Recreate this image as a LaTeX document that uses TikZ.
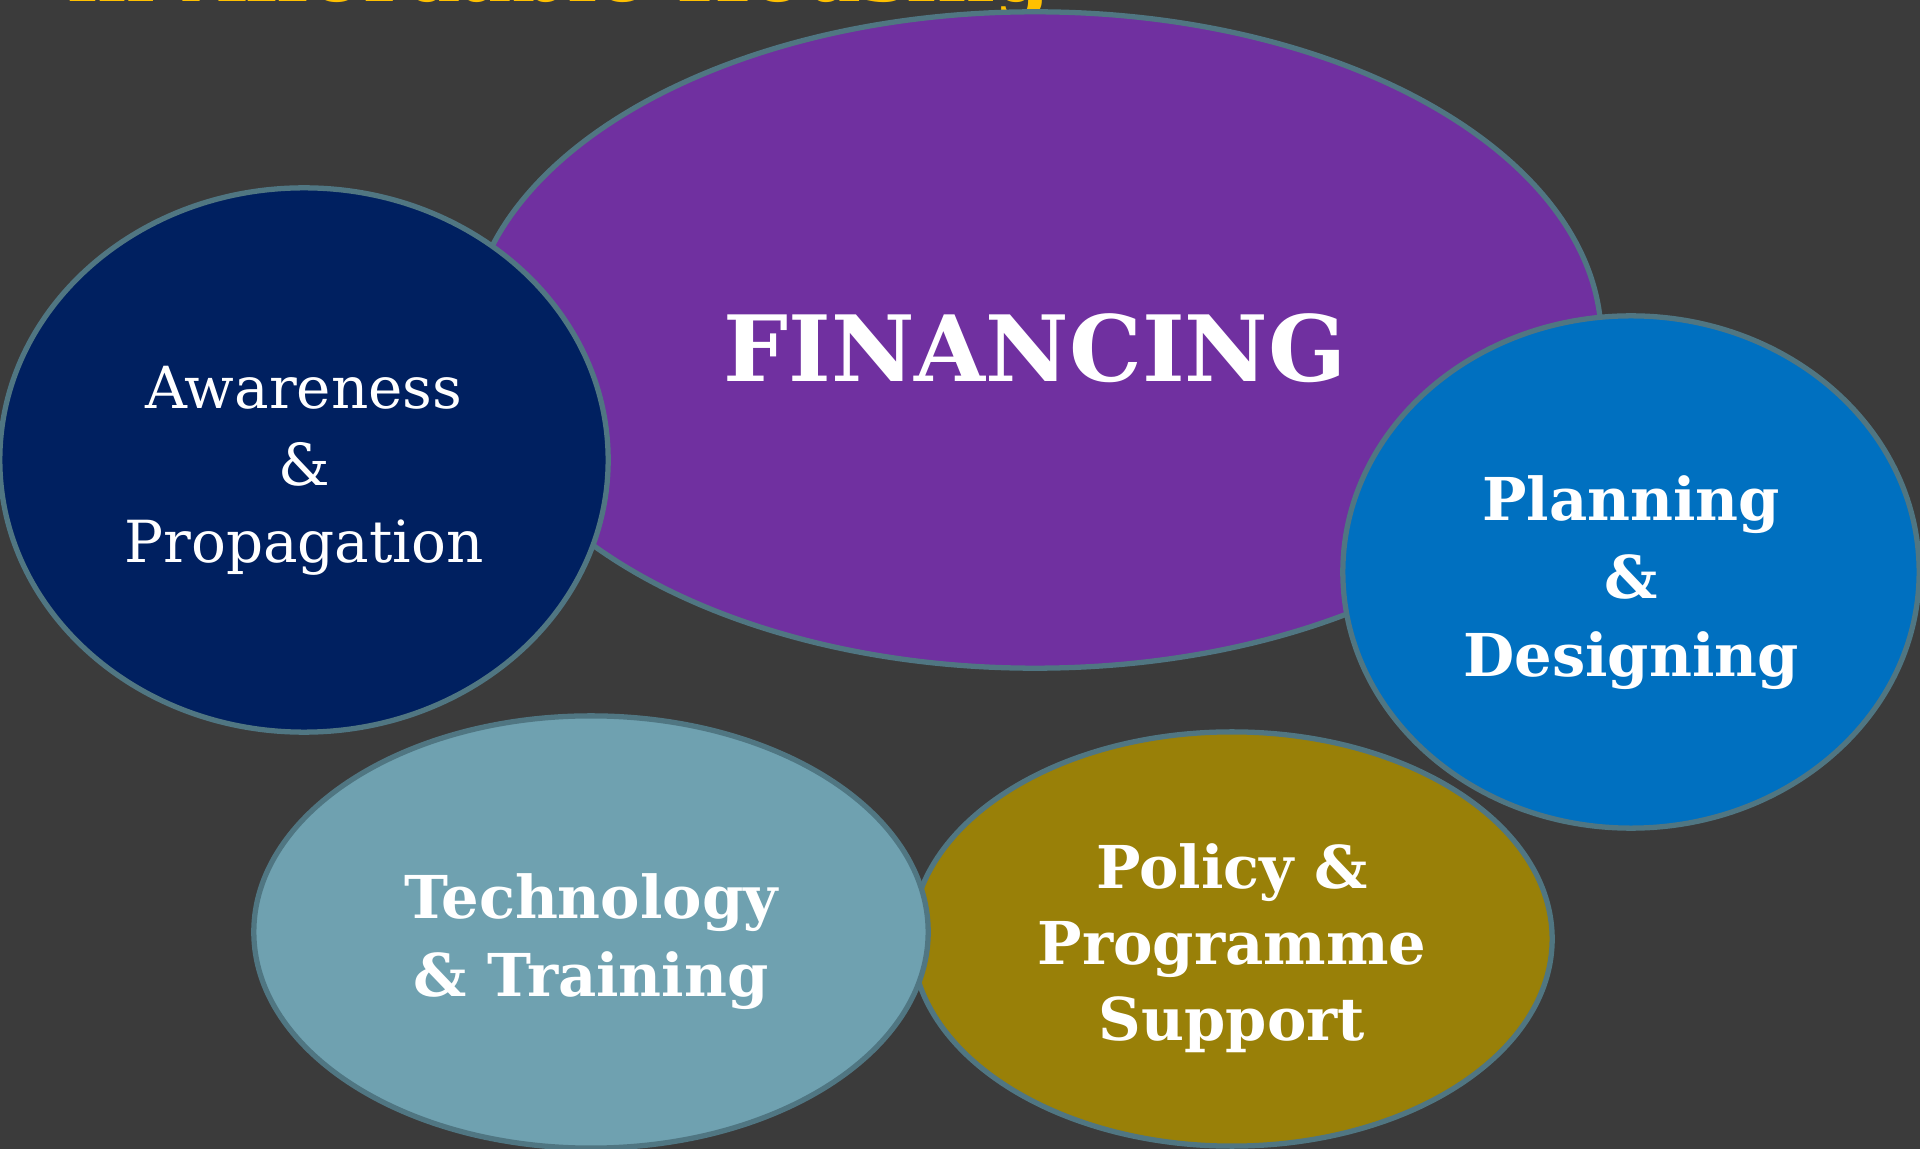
\documentclass[tikz,border=0pt]{standalone}
\usepackage{fontspec}
\setmainfont{DejaVu Serif}
\usetikzlibrary{shapes.geometric}
\definecolor{slatebg}{RGB}{59, 59, 59}
\definecolor{rimteal}{RGB}{80, 118, 130}
\definecolor{royalpurple}{RGB}{112, 48, 160}
\definecolor{deepnavy}{RGB}{0, 32, 96}
\definecolor{oceanblue}{RGB}{0, 112, 192}
\definecolor{dustyteal}{RGB}{111, 161, 176}
\definecolor{mustard}{RGB}{153, 128, 8}
\definecolor{titlegold}{RGB}{255, 192, 0}

\begin{document}
\begin{tikzpicture}[x=0.01cm, y=-0.01cm,
    bubble/.style={ellipse, draw=rimteal, line width=1.5pt, inner sep=0pt},
    caption/.style={text=white, align=center, inner sep=0pt},
    plaintext/.style={caption, font=\fontsize{16.5}{21.9}\selectfont},
    boldtext/.style={caption, font=\fontsize{16.8}{#1}\selectfont\bfseries},
    boldtext/.default=22.2pt]
            % Background & frame
            \fill[slatebg]                                                    (0, 0) rectangle (1920, 1149);
            \useasboundingbox                                                 (0, 0) rectangle (1920, 1149);
            % Title (last line, cut by the top edge)
            \node[anchor=base west, inner sep=0pt, text=titlegold,
                  font=\fontsize{22.6}{26}\selectfont\bfseries] (title) at (67, 1.5) {in Affordable Housing};
            % Centre bubble
            \node[bubble, fill=royalpurple, minimum width=11.32cm, minimum height=6.56cm] (financing)  at (1035, 340) {};
            % Side bubbles
            \node[bubble, fill=deepnavy,    minimum width=6.08cm,  minimum height=5.44cm] (awareness)  at ( 304, 460) {};
            \node[bubble, fill=oceanblue,   minimum width=5.76cm,  minimum height=5.12cm] (planning)   at (1631, 572) {};
            % Bottom bubbles
            \node[bubble, fill=mustard,     minimum width=6.40cm,  minimum height=4.14cm] (policy)     at (1232, 939) {};
            \node[bubble, fill=dustyteal,   minimum width=6.74cm,  minimum height=4.32cm] (technology) at ( 591, 932) {};
            % Captions
            \node[caption, font=\fontsize{26}{30}\selectfont\bfseries]
                 (financing-txt)  at ([yshift=-0.08cm]financing.center)  {FINANCING};
            \node[plaintext]      (awareness-txt)  at ([yshift=-0.11cm]awareness.center)  {Awareness\\\&\\Propagation};
            \node[boldtext]       (planning-txt)   at ([yshift=-0.11cm]planning.center)   {Planning\\\&\\Designing};
            \node[boldtext=21.6pt] (policy-txt)    at ([yshift=-0.09cm]policy.center)     {Policy \&\\Programme\\Support};
            \node[boldtext]       (technology-txt) at ([yshift=-0.10cm]technology.center) {Technology\\\& Training};
        \end{tikzpicture}
\end{document}
